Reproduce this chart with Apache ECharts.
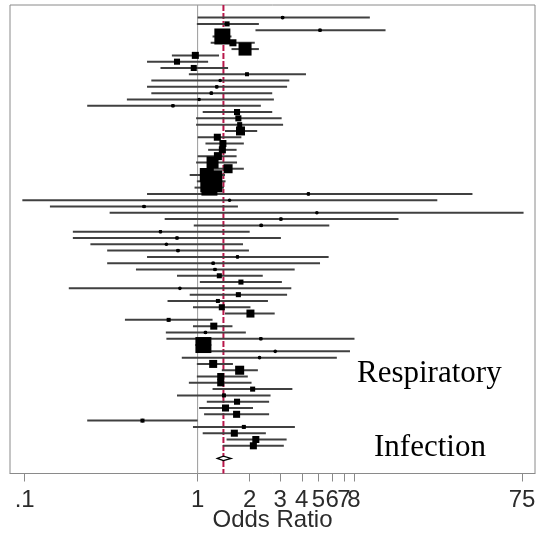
<!DOCTYPE html>
<html>
<head>
<meta charset="utf-8">
<script src="https://cdn.jsdelivr.net/npm/echarts@6/dist/echarts.min.js"></script>
<style>
html,body{margin:0;padding:0;background:#ffffff;}
#chart{width:538px;height:535px;}
</style>
</head>
<body>
<div id="chart"></div>
<script>
// ---- data (odds ratios, 95% CI, study weights) ----
const studyLow = [1.00,0.99,2.16,1.22,1.19,1.57,0.71,0.51,0.61,0.89,
  0.54,0.51,0.54,0.39,0.23,1.07,0.98,0.98,1.44,1.00,
  1.11,1.15,1.00,0.98,1.22,0.90,0.99,0.96,0.51,0.097,
  0.14,0.31,0.645,0.95,0.19,0.19,0.24,0.30,0.51,0.30,
  0.44,0.76,1.03,0.18,0.90,0.67,0.94,1.44,0.38,0.94,
  0.655,0.66,0.97,1.04,0.81,0.99,1.38,0.99,0.89,1.22,
  0.76,1.13,1.02,1.09,0.23,0.94,1.07,1.47,1.40];
const studyOR = [3.10,1.48,5.10,1.39,1.60,1.88,0.97,0.76,0.95,1.93,
  1.35,1.29,1.20,1.02,0.72,1.69,1.72,1.75,1.77,1.30,
  1.40,1.39,1.31,1.22,1.50,1.13,1.20,1.17,4.37,1.53,
  0.49,4.89,3.03,2.33,0.61,0.76,0.66,0.77,1.70,1.23,
  1.26,1.335,1.78,0.79,1.72,1.31,1.38,2.02,0.68,1.24,
  1.11,2.32,1.08,2.81,2.28,1.23,1.75,1.36,1.36,2.08,
  1.42,1.69,1.45,1.68,0.48,1.85,1.63,2.17,2.10];
const studyHigh = [9.90,2.26,12.2,1.57,2.14,2.26,1.33,1.15,1.50,4.23,
  3.39,3.29,2.70,2.76,2.32,2.70,3.06,3.12,2.21,1.79,
  1.85,1.68,1.68,1.69,1.85,1.44,1.45,1.42,38.8,24.3,
  1.71,76.6,14.5,5.77,2.00,3.03,1.83,1.98,5.72,5.10,
  3.64,2.38,3.07,3.48,3.29,2.55,2.02,2.79,1.22,1.59,
  1.90,8.07,1.20,7.60,6.38,1.60,2.23,1.95,2.05,3.53,
  2.64,2.59,2.09,2.59,1.00,3.65,2.48,3.27,3.15];
const studyWeight = [0.6,1.6,0.6,16.0,3.1,10.6,3.1,2.3,2.3,1.0,
  0.3,0.6,0.6,0.3,0.6,2.3,2.3,1.6,5.1,3.1,
  3.1,3.1,4.0,9.0,5.1,12.3,30.3,16.0,0.6,0.1,
  0.6,0.1,0.6,0.6,0.6,0.6,0.3,0.6,0.6,0.6,
  0.6,1.6,1.6,0.3,1.6,1.0,2.3,4.0,1.0,3.1,
  0.6,0.6,16.0,0.3,0.3,4.0,5.1,3.1,3.1,1.6,
  1.0,2.3,3.1,3.1,1.0,1.0,3.1,3.1,3.1];
const pooledOR = 1.41;
const pooledLow = 1.30;
const pooledHigh = 1.56;
const tickValues = [0.1, 1, 2, 3, 4, 5, 6, 7, 8, 75];
const tickLabels = ['.1', '1', '2', '3', '4', '5', '6', '7', '8', '75'];
const axisTitle = 'Odds Ratio';
const groupLabels = ['Respiratory', 'Infection'];

// ---- build ----
const nStudies = studyOR.length;
const overallRow = nStudies + 2;
const yMin = -1, yMax = 73.4;
const studyData = studyOR.map((p, i) => [studyLow[i], p, studyHigh[i], i + 1, studyWeight[i]]);

const chart = echarts.init(document.getElementById('chart'), null, {renderer: 'canvas'});

function labelFor(v) {
  const k = tickValues.findIndex(t => Math.abs(t - v) / t < 1e-6);
  return k >= 0 ? tickLabels[k] : '';
}

const option = {
  animation: false,
  backgroundColor: '#ffffff',
  grid: {left: 10, right: 3, top: 5, bottom: 61.5, show: true, borderColor: '#8a8a8a', borderWidth: 1,
    backgroundColor: 'transparent', containLabel: false, outerBoundsMode: 'none'},
  xAxis: {
    type: 'log', logBase: 10, min: 0.0823, max: 89.2,
    axisLine: {show: true, onZero: false, lineStyle: {color: '#8a8a8a', width: 1}},
    axisTick: {show: true, customValues: tickValues, length: 8, lineStyle: {color: '#8a8a8a', width: 1}},
    axisLabel: {customValues: tickValues, formatter: labelFor, hideOverlap: false, fontSize: 24,
      fontFamily: 'Liberation Sans, Arial, sans-serif', color: '#2b2b2b', margin: 15},
    splitLine: {show: false}, minorTick: {show: false}, minorSplitLine: {show: false},
    name: axisTitle, nameLocation: 'middle', nameGap: 35, nameMoveOverlap: false,
    nameTextStyle: {fontSize: 24, fontFamily: 'Liberation Sans, Arial, sans-serif', color: '#2b2b2b'}
  },
  yAxis: {type: 'value', inverse: true, min: yMin, max: yMax, show: false},
  series: [
    {
      type: 'custom', name: 'refs', z: 1, silent: true,
      data: [[1, 0], [pooledOR, 1]],
      renderItem: function (params, api) {
        const v = api.value(0), kind = api.value(1);
        const p0 = api.coord([v, yMin]), p1 = api.coord([v, yMax]);
        return {type: 'line', shape: {x1: p0[0], y1: p0[1], x2: p1[0], y2: p1[1]},
          style: kind === 0 ? {stroke: '#9a9a9a', lineWidth: 1}
                            : {stroke: '#b8174a', lineWidth: 2, lineDash: [6, 2]}};
      }
    },
    {
      type: 'custom', name: 'ci', z: 2, silent: true,
      data: studyData,
      renderItem: function (params, api) {
        const a = api.coord([api.value(0), api.value(3)]);
        const b = api.coord([api.value(2), api.value(3)]);
        return {type: 'line', shape: {x1: a[0], y1: a[1], x2: b[0], y2: b[1]},
          style: {stroke: '#404040', lineWidth: 2}};
      }
    },
    {
      type: 'custom', name: 'box', z: 3, silent: true,
      data: studyData,
      renderItem: function (params, api) {
        const c = api.coord([api.value(1), api.value(3)]);
        const side = 4 * Math.sqrt(api.value(4));
        return {type: 'group', children: [
          {type: 'rect', shape: {x: c[0] - side / 2, y: c[1] - side / 2, width: side, height: side}, style: {fill: '#000'}},
          {type: 'circle', shape: {cx: c[0], cy: c[1], r: 1.8}, style: {fill: '#000'}}
        ]};
      }
    },
    {
      type: 'custom', name: 'overall', z: 4, silent: true,
      data: [[pooledLow, pooledOR, pooledHigh, overallRow]],
      renderItem: function (params, api) {
        const r = api.value(3);
        const l = api.coord([api.value(0), r]);
        const m = api.coord([api.value(1), r]);
        const h = api.coord([api.value(2), r]);
        const top = api.coord([api.value(1), r - 0.34]);
        const bot = api.coord([api.value(1), r + 0.34]);
        return {type: 'polygon', shape: {points: [l, [m[0], top[1]], h, [m[0], bot[1]]]},
          style: {fill: '#ffffff', stroke: '#000', lineWidth: 1.3}};
      }
    }
  ],
  graphic: [
    {type: 'text', left: 357, top: 374 - 15.5, z: 10, style: {text: groupLabels[0], font: '31px "Liberation Serif", "Times New Roman", serif', fill: '#000'}},
    {type: 'text', left: 374, top: 448 - 15.5, z: 10, style: {text: groupLabels[1], font: '31px "Liberation Serif", "Times New Roman", serif', fill: '#000'}}
  ]
};
chart.setOption(option);
</script>
</body>
</html>
